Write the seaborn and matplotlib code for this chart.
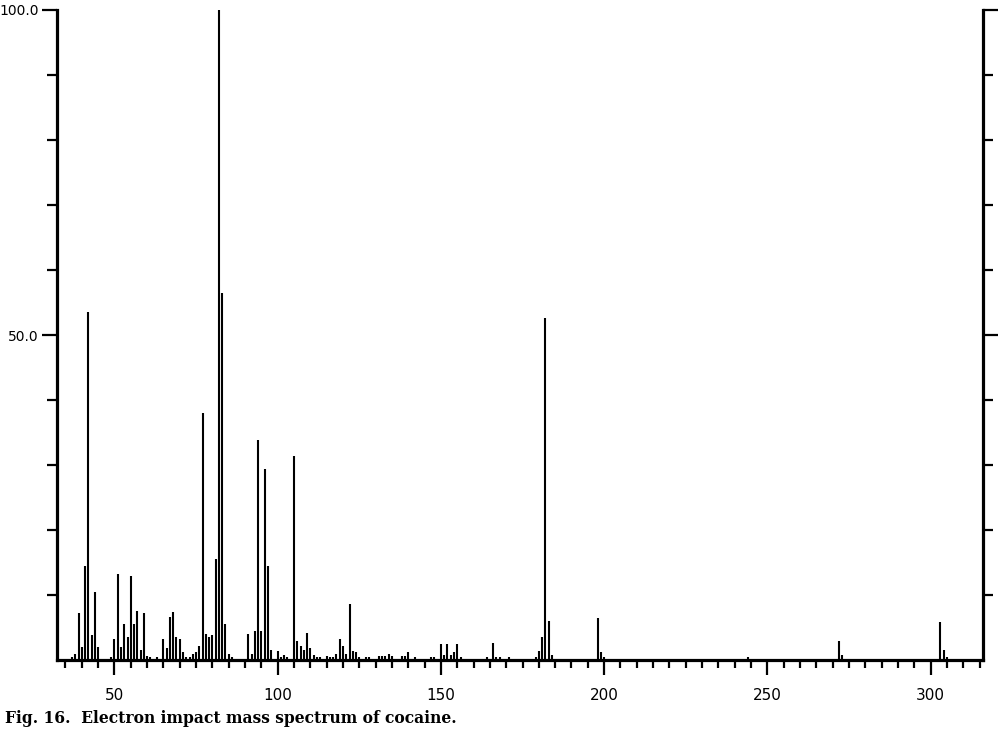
import numpy as np
import matplotlib
matplotlib.use("Agg")
import matplotlib.pyplot as plt
import seaborn as sns

# m/z values and relative intensities (%)
mz = [37, 38, 39, 40, 41, 42, 43, 44, 45, 49, 50, 51, 52, 53, 54, 55, 56, 57, 58, 59,
      60, 61, 63, 65, 66, 67, 68, 69, 70, 71, 72, 73, 74, 75, 76, 77, 78, 79, 80, 81,
      82, 83, 84, 85, 86, 91, 92, 93, 94, 95, 96, 97, 98, 100, 101, 102, 103, 105, 106, 107,
      108, 109, 110, 111, 112, 113, 115, 116, 117, 118, 119, 120, 121, 122, 123, 124, 125, 127, 128, 131,
      132, 133, 134, 135, 138, 139, 140, 142, 147, 148, 150, 151, 152, 153, 154, 155, 156, 164, 166, 167,
      168, 171, 179, 180, 181, 182, 183, 184, 198, 199, 200, 244, 272, 273, 303, 304, 305]
intensity = [0.5, 1.0, 7.2, 2.0, 14.5, 53.5, 3.8, 10.4, 2.0, 0.5, 3.2, 13.2, 2.0, 5.5, 3.5, 13.0, 5.5, 7.6, 1.5, 7.3,
             0.6, 0.5, 0.5, 3.3, 1.8, 6.6, 7.4, 3.5, 3.3, 1.2, 0.5, 0.5, 1.0, 1.2, 2.2, 38.0, 4.0, 3.5, 3.8, 15.6,
             100.0, 56.5, 5.5, 1.0, 0.5, 4.0, 1.0, 4.5, 33.8, 4.5, 29.4, 14.4, 1.5, 1.4, 0.5, 0.8, 0.5, 31.4, 3.0, 2.2,
             1.5, 4.2, 1.8, 0.8, 0.5, 0.5, 0.6, 0.5, 0.5, 1.0, 3.2, 2.2, 1.0, 8.6, 1.4, 1.2, 0.5, 0.4, 0.5, 0.6,
             0.7, 0.7, 1.0, 0.6, 0.7, 0.7, 1.2, 0.4, 0.5, 0.5, 2.4, 0.8, 2.5, 0.8, 1.2, 2.5, 0.5, 0.5, 2.6, 0.5,
             0.5, 0.4, 0.5, 1.4, 3.5, 52.6, 6.0, 0.8, 6.4, 1.2, 0.5, 0.4, 3.0, 0.8, 5.8, 1.5, 0.5]

x_major = [50, 100, 150, 200, 250, 300]
x_labels = ["50", "100", "150", "200", "250", "300"]
y_labeled = [50, 100]
y_labels = ["50.0", "100.0"]
caption = "Fig. 16.  Electron impact mass spectrum of cocaine."

sns.set_style("ticks")
plt.rcParams["font.family"] = ["DejaVu Sans"]

fig = plt.figure(figsize=(10, 7.4), dpi=100)
ax = fig.add_axes([0.057, 0.108, 0.926, 0.8785])

ax.vlines(mz, 0, intensity, colors="black", linewidth=1.5)

ax.set_xlim(32.4, 316.05)
ax.set_ylim(0, 100)

# spines: left, right and baseline, no top
for side in ["left", "right", "bottom"]:
    ax.spines[side].set_linewidth(2.3)
    ax.spines[side].set_color("black")
ax.spines["top"].set_visible(False)

# x ticks: minor every 5, labelled every 50
ax.set_xticks(x_major)
ax.set_xticklabels(x_labels)
ax.set_xticks(np.arange(35, 316, 5), minor=True)
ax.tick_params(axis="x", which="major", direction="out", length=11, width=1.6,
               labelsize=11, pad=9, color="black", labelcolor="black")
ax.tick_params(axis="x", which="minor", direction="out", length=6, width=1.6,
               color="black")

# y ticks every 10 on both sides, labels only at 50 and 100 on the left
ax.set_yticks(y_labeled)
ax.set_yticklabels(y_labels)
ax.set_yticks([10, 20, 30, 40, 60, 70, 80, 90], minor=True)
ax.tick_params(axis="y", which="major", direction="out", length=11, width=1.6,
               labelsize=10, pad=2, left=True, right=True,
               color="black", labelcolor="black")
ax.tick_params(axis="y", which="minor", direction="out", length=7, width=1.6,
               left=True, right=True, color="black")

fig.text(0.005, 0.018, caption, fontsize=11.2, fontweight="bold",
         family=["DejaVu Serif"], ha="left", va="bottom", color="black")

fig.savefig("out.png", dpi=100, facecolor="white")
